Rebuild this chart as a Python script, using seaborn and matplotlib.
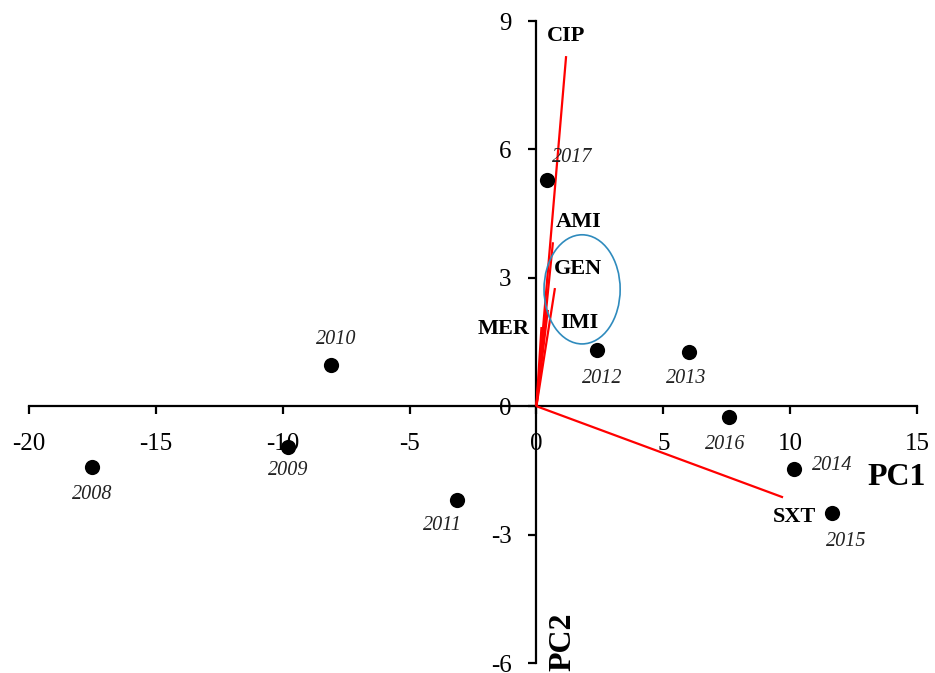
import matplotlib
matplotlib.use("Agg")
import matplotlib.pyplot as plt
import seaborn as sns
import pandas as pd
from matplotlib.patches import Ellipse

# ---- data ----
years = ["2008", "2009", "2010", "2011", "2012", "2013", "2014", "2015", "2016", "2017"]
pc1_scores = [-17.5, -9.8, -8.1, -3.15, 2.4, 6.0, 10.15, 11.65, 7.6, 0.4]
pc2_scores = [-1.43, -0.96, 0.96, -2.2, 1.31, 1.26, -1.47, -2.5, -0.26, 5.28]

variables = ["CIP", "AMI", "GEN", "IMI", "MER", "SXT"]
load_pc1 = [1.17, 0.65, 0.73, 0.45, 0.2, 9.72]
load_pc2 = [8.18, 3.83, 2.76, 2.25, 1.85, -2.13]

x_ticks = [-20, -15, -10, -5, 0, 5, 10, 15]
y_ticks = [-6, -3, 0, 3, 6, 9]

# label placements (data coords)
year_label_pos = {
    "2008": (-17.5, -2.06), "2009": (-9.8, -1.5), "2010": (-7.9, 1.57),
    "2011": (-3.7, -2.78), "2012": (2.6, 0.65), "2013": (5.9, 0.65),
    "2014": (11.65, -1.38), "2015": (12.2, -3.15), "2016": (7.45, -0.89),
    "2017": (1.4, 5.82),
}
var_label_pos = {
    "CIP": (1.17, 8.64), "AMI": (1.68, 4.3), "GEN": (1.64, 3.2),
    "IMI": (1.7, 1.94), "MER": (-1.3, 1.8), "SXT": (10.15, -2.6),
}

df = pd.DataFrame({"PC1": pc1_scores, "PC2": pc2_scores, "year": years})

sns.set_theme(style="white")
plt.rcParams["font.family"] = ["Liberation Serif", "DejaVu Serif"]

fig = plt.figure(figsize=(9.35, 6.73), dpi=100)
ax = fig.add_axes([29 / 935, 1 - 663 / 673, 888 / 935, 642 / 673])
ax.set_xlim(-20, 15)
ax.set_ylim(-6, 9)

# loadings lines
for v, lx, ly in zip(variables, load_pc1, load_pc2):
    ax.plot([0, lx], [0, ly], color="red", lw=1.6, zorder=2, solid_capstyle="butt")

# score points
sns.scatterplot(data=df, x="PC1", y="PC2", color="black", s=120,
                edgecolor="black", linewidth=0, ax=ax, zorder=3)

# ellipse
ax.add_patch(Ellipse((1.8, 2.73), 3.0, 2.55, fill=False,
                     edgecolor="#2f8bbd", lw=1.2, zorder=2))

for y in years:
    x0, y0 = year_label_pos[y]
    ax.text(x0, y0, y, fontsize=14.5, style="italic", color="#222222",
            ha="center", va="center", clip_on=False)

for v in variables:
    x0, y0 = var_label_pos[v]
    ax.text(x0, y0, v, fontsize=16, fontweight="bold", color="black",
            ha="center", va="center", clip_on=False)

ax.text(14.2, -1.66, "PC1", fontsize=23, fontweight="bold", color="black",
        ha="center", va="center", clip_on=False)
ax.text(1.06, -5.5, "PC2", fontsize=23, fontweight="bold", rotation=90,
        color="black", ha="center", va="center", clip_on=False)

# axes through origin
for side in ["top", "right"]:
    ax.spines[side].set_visible(False)
ax.spines["left"].set_position(("data", 0))
ax.spines["bottom"].set_position(("data", 0))
for side in ["left", "bottom"]:
    ax.spines[side].set_color("black")
    ax.spines[side].set_linewidth(1.6)
    ax.spines[side].set_zorder(1)

ax.set_xticks(x_ticks)
ax.set_yticks(y_ticks)
ax.set_xticklabels([str(t) for t in x_ticks])
ax.set_yticklabels([str(t) for t in y_ticks])
ax.tick_params(axis="both", which="major", bottom=True, left=True,
               direction="out", length=6, width=1.6,
               color="black", labelsize=18, labelcolor="black")
ax.tick_params(axis="x", pad=13)
ax.tick_params(axis="y", pad=12)
ax.set_xlabel("")
ax.set_ylabel("")
ax.grid(False)
ax.set_facecolor("white")
fig.patch.set_facecolor("white")

fig.savefig("out.png", dpi=100)
